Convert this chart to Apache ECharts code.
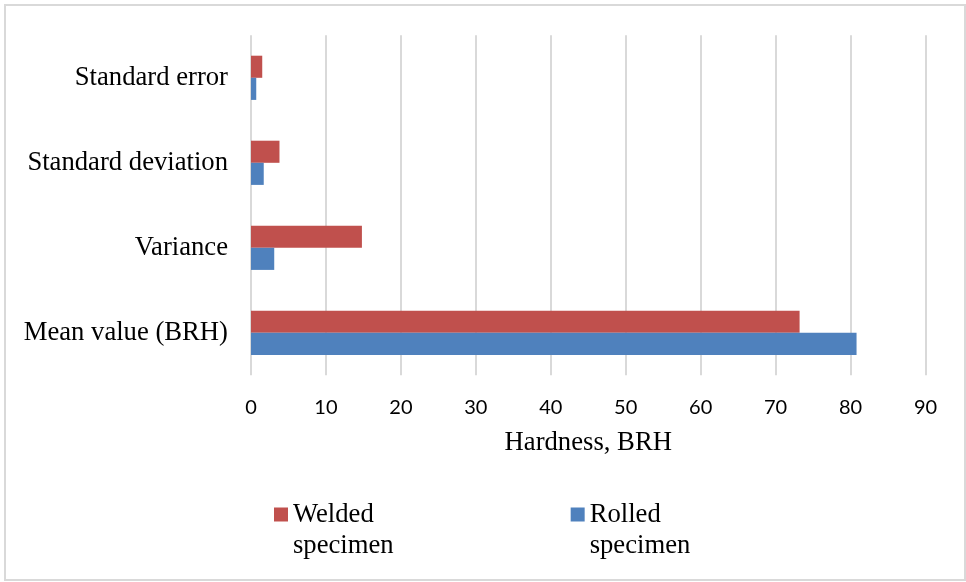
<!DOCTYPE html>
<html>
<head>
<meta charset="utf-8">
<script src="https://cdn.jsdelivr.net/npm/echarts@6/dist/echarts.min.js"></script>
<style>
  html, body { margin: 0; padding: 0; background: #fff; }
  #chart { width: 966px; height: 582px; }
</style>
</head>
<body>
<div id="chart"></div>
<script>
// Hardness statistics of welded vs rolled specimens
const categories = ['Mean value (BRH)', 'Variance', 'Standard deviation', 'Standard error'];
const weldedValues = [73.2, 14.8, 3.8, 1.5];
const rolledValues = [80.8, 3.1, 1.7, 0.7];
const seriesNames = ['Welded\nspecimen', 'Rolled\nspecimen'];
const xTicks = { min: 0, max: 90, interval: 10 };
const axisTitle = 'Hardness, BRH';

const serif = '"Liberation Serif", "Times New Roman", serif';
const chart = echarts.init(document.getElementById('chart'), null, { renderer: 'canvas' });

chart.setOption({
  backgroundColor: '#ffffff',
  animation: false,
  graphic: [{
    type: 'rect',
    shape: { x: 5, y: 5, width: 960, height: 575 },
    style: { fill: 'none', stroke: '#d9d9d9', lineWidth: 2 },
    silent: true
  }],
  grid: { left: 251, right: 40.5, top: 35.3, height: 340 },
  legend: {
    data: seriesNames,
    left: 274,
    top: 468,
    padding: 0,
    itemWidth: 14,
    itemHeight: 14,
    itemGap: 177,
    icon: 'rect',
    // a blank first line keeps the icon level with the first text line
    formatter: function (name) { return '\u200B\n' + name; },
    textStyle: {
      fontFamily: serif,
      fontSize: 26.67,
      color: '#000',
      lineHeight: 31
    }
  },
  xAxis: {
    type: 'value',
    min: xTicks.min,
    max: xTicks.max,
    interval: xTicks.interval,
    axisLine: { show: false },
    axisTick: { show: false },
    splitLine: { lineStyle: { color: '#d9d9d9', width: 2 } },
    axisLabel: { fontFamily: 'Lato, "Open Sans", sans-serif', fontSize: 20, color: '#000', margin: 22 },
    name: axisTitle,
    nameLocation: 'middle',
    nameGap: 54,
    nameTextStyle: { fontFamily: serif, fontSize: 26.67, color: '#000' }
  },
  yAxis: {
    type: 'category',
    data: categories,
    axisLine: { show: false },
    axisTick: { show: false },
    splitLine: { show: false },
    axisLabel: { fontFamily: serif, fontSize: 26.67, color: '#000', margin: 23 }
  },
  series: [
    {
      name: seriesNames[0],
      type: 'bar',
      data: weldedValues,
      itemStyle: { color: '#c0504d' },
      barGap: '0%',
      barCategoryGap: '48%'
    },
    {
      name: seriesNames[1],
      type: 'bar',
      data: rolledValues,
      itemStyle: { color: '#4f81bd' },
      barGap: '0%',
      barCategoryGap: '48%'
    }
  ]
});
</script>
</body>
</html>
